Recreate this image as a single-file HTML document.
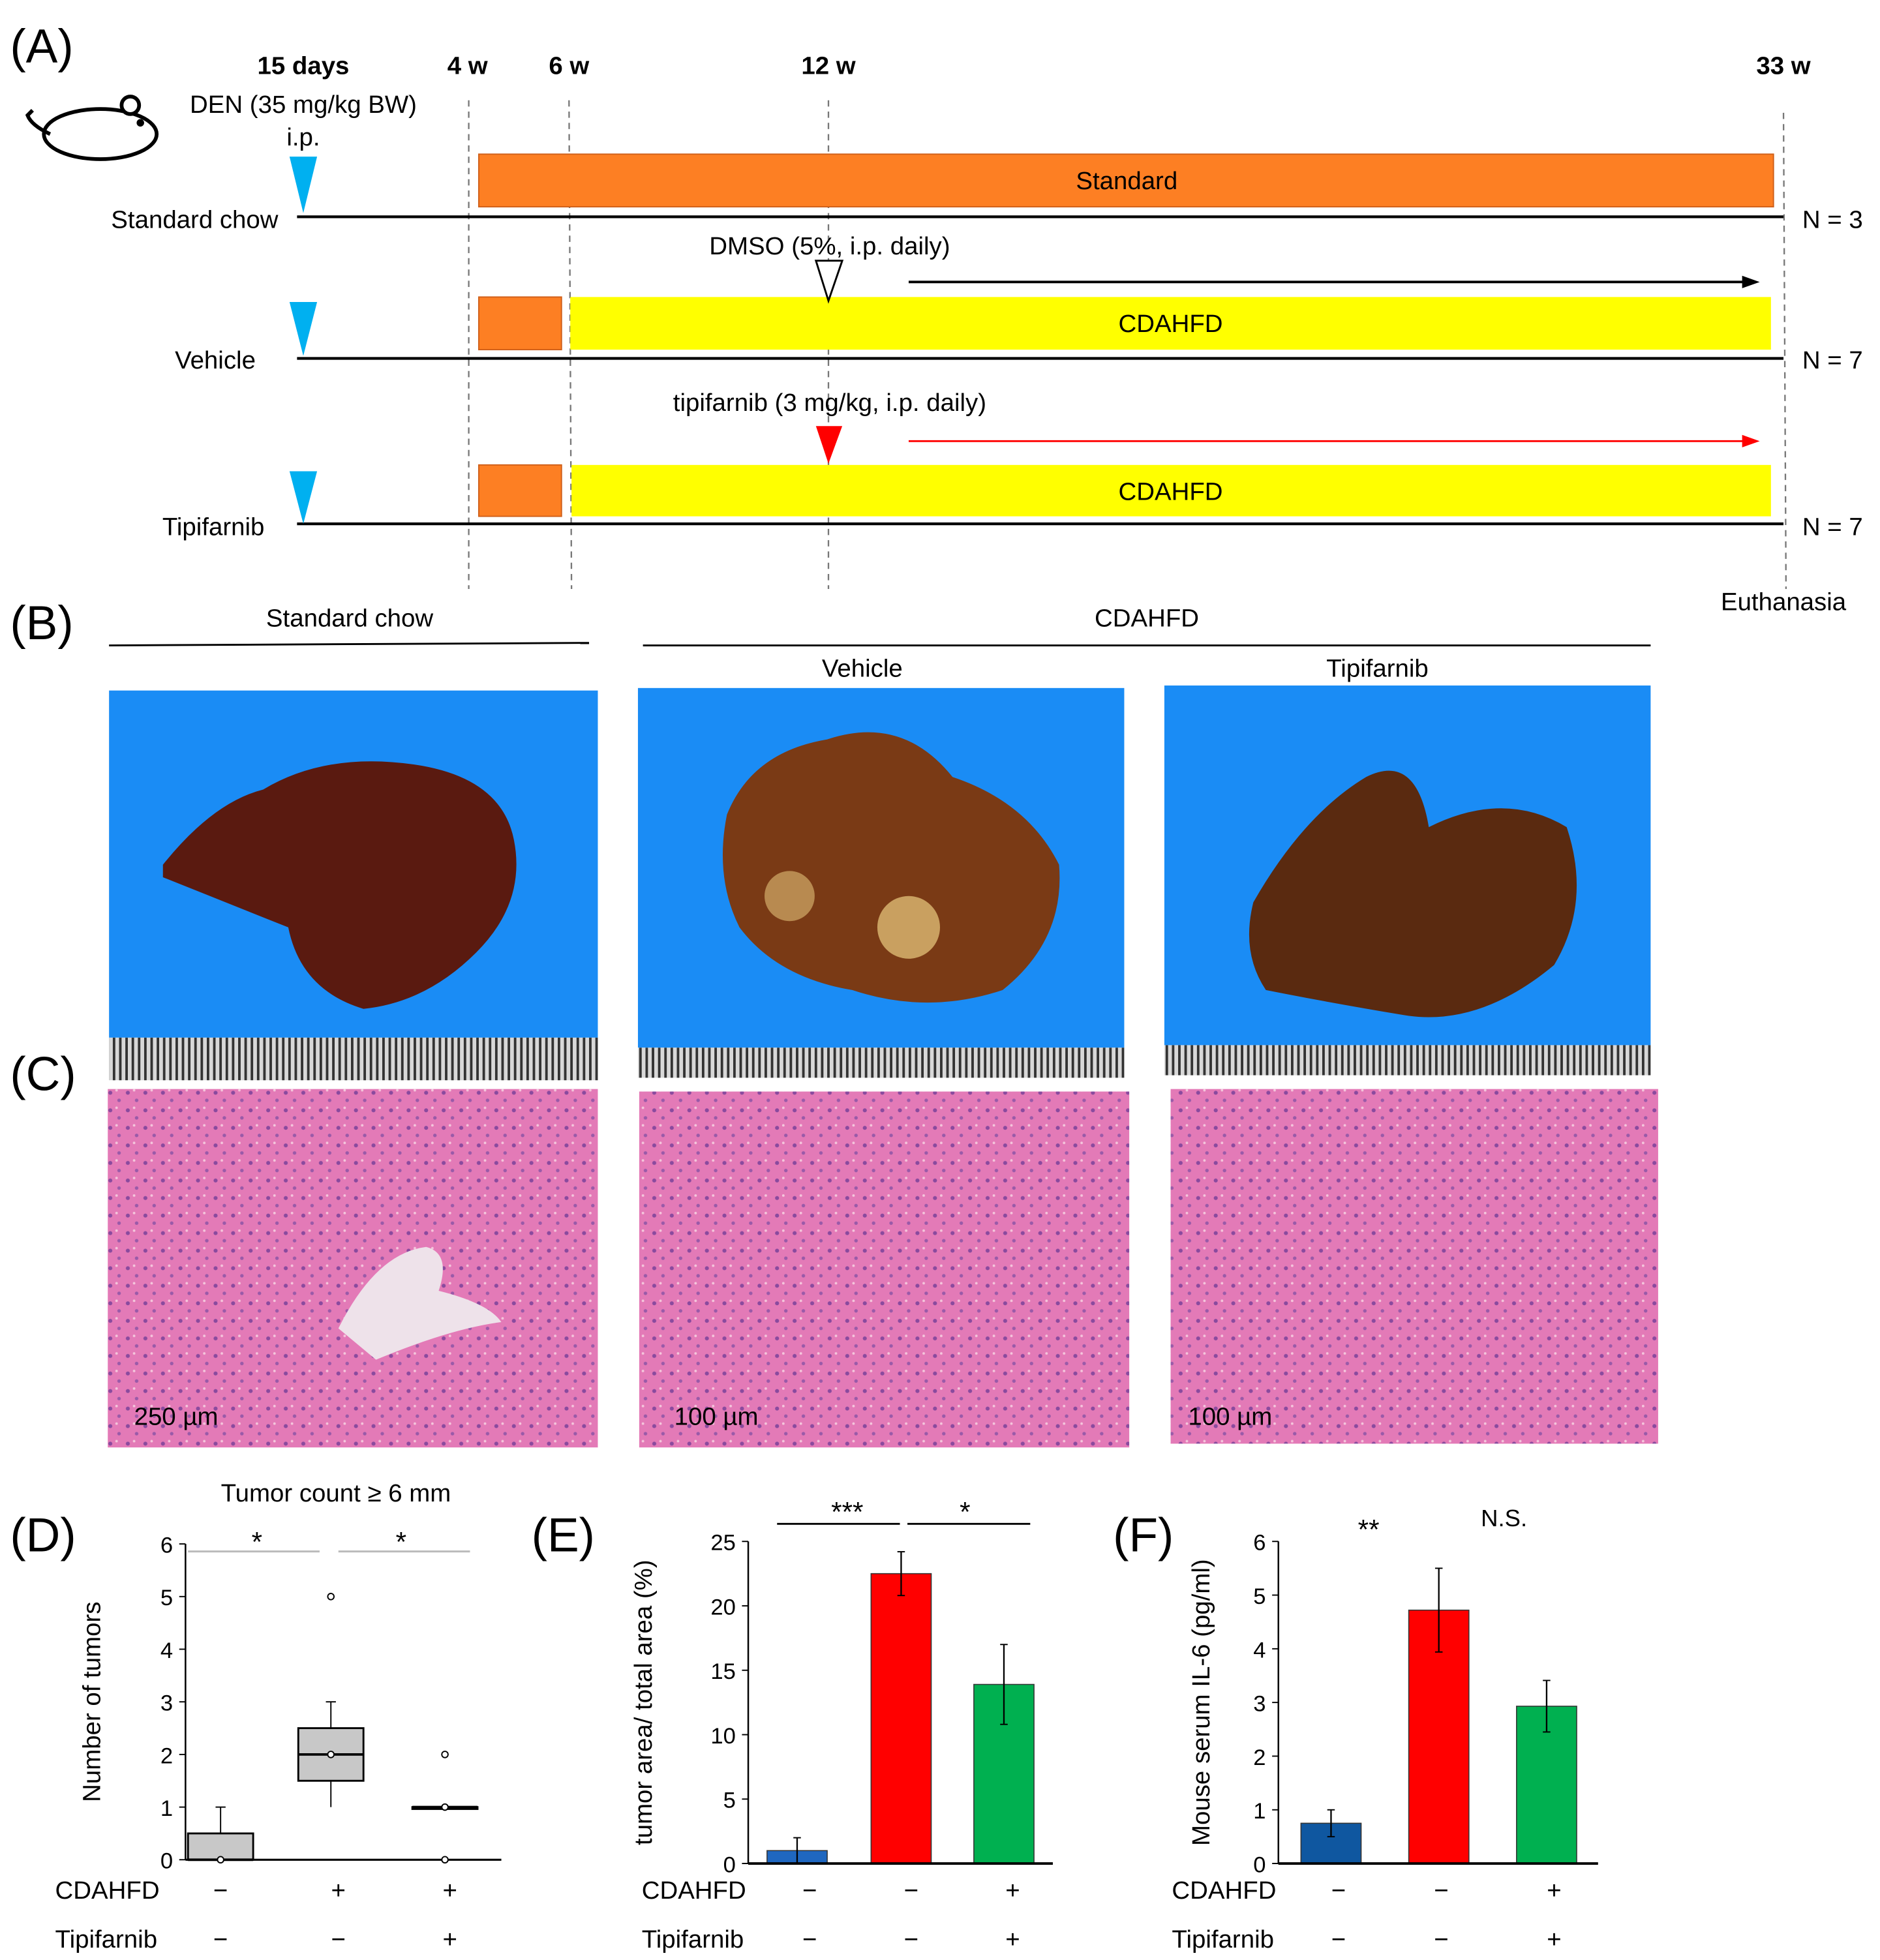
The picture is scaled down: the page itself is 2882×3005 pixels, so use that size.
<!DOCTYPE html>
<html><head><meta charset="utf-8"><style>
html,body{margin:0;padding:0;background:#fff}
svg{display:block}
text{font-family:"Liberation Sans",sans-serif;fill:#000}
</style></head><body>
<svg id="fig" width="2882" height="3005" viewBox="0 0 1500 1564" xmlns="http://www.w3.org/2000/svg">
<rect width="1500" height="1564" fill="#fff"/>
<!-- Panel A -->
<g>
<text x="8" y="50" font-size="38">(A)</text>
<g font-size="20" font-weight="bold" text-anchor="middle">
<text x="242" y="59">15 days</text>
<text x="373" y="59">4 w</text>
<text x="454" y="59">6 w</text>
<text x="661" y="59">12 w</text>
<text x="1423" y="59">33 w</text>
</g>
<g fill="none" stroke="#000" stroke-width="3">
<ellipse cx="80" cy="107" rx="45" ry="20"/>
<circle cx="104" cy="84" r="7" fill="#fff"/>
<path d="M40,107 Q25,100 22,92 L26,88"/>
<circle cx="112" cy="98" r="1.5" fill="#000"/>
</g>
<text x="242" y="90" font-size="20" text-anchor="middle">DEN (35 mg/kg BW)</text>
<text x="242" y="116" font-size="20" text-anchor="middle">i.p.</text>
<g stroke="#777" stroke-width="1.2" stroke-dasharray="5,4">
<line x1="374" y1="80" x2="374" y2="470"/><line x1="454" y1="80" x2="456" y2="470"/>
<line x1="661" y1="80" x2="661" y2="470"/><line x1="1423" y1="90" x2="1425" y2="470"/>
</g>
<rect x="382" y="123" width="1033" height="42" fill="#fd7f23" stroke="#d0601a"/>
<text x="899" y="151" font-size="20" text-anchor="middle">Standard</text>
<rect x="382" y="237" width="66" height="42" fill="#fd7f23" stroke="#d0601a"/>
<rect x="455" y="237" width="958" height="42" fill="#ffff00"/>
<text x="934" y="265" font-size="20" text-anchor="middle">CDAHFD</text>
<rect x="382" y="371" width="66" height="41" fill="#fd7f23" stroke="#d0601a"/>
<rect x="456" y="371" width="957" height="41" fill="#ffff00"/>
<text x="934" y="399" font-size="20" text-anchor="middle">CDAHFD</text>
<g stroke="#000" stroke-width="2.2">
<line x1="237" y1="173" x2="1423" y2="173"/><line x1="237" y1="286" x2="1423" y2="286"/><line x1="237" y1="418" x2="1423" y2="418"/>
</g>
<g fill="#00b0f0">
<polygon points="231,125 253,125 242,170"/><polygon points="231,241 253,241 242,284"/><polygon points="231,376 253,376 242,418"/>
</g>
<g font-size="20" text-anchor="end">
<text x="222" y="182">Standard chow</text>
<text x="204" y="294">Vehicle</text>
<text x="211" y="427">Tipifarnib</text>
</g>
<g font-size="20">
<text x="1438" y="182">N = 3</text><text x="1438" y="294">N = 7</text><text x="1438" y="427">N = 7</text>
<text x="1423" y="487" text-anchor="middle">Euthanasia</text>
<text x="662" y="203" text-anchor="middle">DMSO (5%, i.p. daily)</text>
<text x="662" y="328" text-anchor="middle">tipifarnib (3 mg/kg,  i.p. daily)</text>
</g>
<polygon points="651,208 672,208 661,240" fill="#fff" stroke="#000" stroke-width="1.5"/>
<polygon points="651,340 672,340 661,370" fill="#ff0000"/>
<line x1="725" y1="225" x2="1393" y2="225" stroke="#000" stroke-width="2"/><polygon points="1390,220 1404,225 1390,230" fill="#000"/>
<line x1="725" y1="352" x2="1393" y2="352" stroke="#f00" stroke-width="1.5"/><polygon points="1390,347 1404,352 1390,357" fill="#f00"/>
</g>
<!-- Panel B -->
<g>
<text x="8" y="510" font-size="38">(B)</text>
<text x="279" y="500" font-size="20" text-anchor="middle">Standard chow</text>
<line x1="87" y1="515" x2="470" y2="513" stroke="#000" stroke-width="1.5"/>
<text x="915" y="500" font-size="20" text-anchor="middle">CDAHFD</text>
<line x1="513" y1="515" x2="1317" y2="515" stroke="#000" stroke-width="1.5"/>
<text x="688" y="540" font-size="20" text-anchor="middle">Vehicle</text>
<text x="1099" y="540" font-size="20" text-anchor="middle">Tipifarnib</text>
<defs>
<pattern id="ruler" width="5" height="10" patternUnits="userSpaceOnUse"><rect width="5" height="10" fill="#d8d8d8"/><rect width="2" height="10" fill="#333"/></pattern>
<pattern id="he" width="14" height="14" patternUnits="userSpaceOnUse"><rect width="14" height="14" fill="#e37ab7"/><circle cx="4" cy="4" r="1.6" fill="#8a4a9e"/><circle cx="11" cy="10" r="1.4" fill="#9a5aa8"/><circle cx="9" cy="2" r="1" fill="#f4c6dc"/></pattern>
</defs>
<rect x="87" y="551" width="390" height="277" fill="#1a8cf5"/>
<rect x="87" y="828" width="390" height="34" fill="url(#ruler)"/>
<path d="M130,690 Q170,640 210,630 Q260,600 330,610 Q400,620 410,670 Q420,720 380,760 Q340,800 290,805 Q240,790 230,740 Q180,720 130,700Z" fill="#5a1a10"/>
<rect x="509" y="549" width="388" height="287" fill="#1a8cf5"/>
<rect x="509" y="836" width="388" height="24" fill="url(#ruler)"/>
<path d="M580,650 Q600,600 660,590 Q720,570 760,620 Q820,640 845,690 Q850,750 800,790 Q740,810 680,790 Q620,780 590,740 Q570,700 580,650Z" fill="#7a3a15"/>
<circle cx="725" cy="740" r="25" fill="#c9a060"/><circle cx="630" cy="715" r="20" fill="#b88a50"/>
<rect x="929" y="547" width="388" height="287" fill="#1a8cf5"/>
<rect x="929" y="834" width="388" height="24" fill="url(#ruler)"/>
<path d="M1000,720 Q1040,650 1090,620 Q1130,600 1140,660 Q1200,630 1250,660 Q1270,720 1240,770 Q1180,820 1120,810 Q1060,800 1010,790 Q990,760 1000,720Z" fill="#5a2a10"/>
</g>
<!-- Panel C -->
<g>
<text x="8" y="870" font-size="38">(C)</text>
<rect x="86" y="869" width="391" height="286" fill="url(#he)"/>
<path d="M270,1060 Q300,1000 340,995 Q360,1000 350,1030 Q390,1040 400,1055 Q360,1060 300,1085Z" fill="#eee2ea"/>
<rect x="510" y="871" width="391" height="284" fill="url(#he)"/>
<rect x="934" y="869" width="389" height="283" fill="url(#he)"/>
<g font-size="20"><text x="107" y="1137">250 µm</text><text x="538" y="1137">100 µm</text><text x="948" y="1137">100 µm</text></g>
</g>
<g id="charts"></g>
</svg>
<script>
// Panel D boxplot data
const dGroups=["Standard","Vehicle","Tipifarnib"];
const dMin=[0,1,1];
const dQ1=[0,1.5,1];
const dMed=[0,2,1];
const dQ3=[0.5,2.5,1];
const dMax=[1,3,1];
const dOutliers=[[],[5],[2,0]];
const dTicks=[0,1,2,3,4,5,6];
// Panel E bar data
const eGroups=["Standard","Vehicle","Tipifarnib"];
const eValues=[1.0,22.5,13.9];
const eErrors=[1.0,1.7,3.1];
const eTicks=[0,5,10,15,20,25];
// Panel F bar data
const fGroups=["Standard","Vehicle","Tipifarnib"];
const fValues=[0.75,4.72,2.93];
const fErrors=[0.25,0.78,0.48];
const fTicks=[0,1,2,3,4,5,6];
const cdahfdSigns=["−","+","+"];
const tipiSigns=["−","−","+"];
const eCdahfd=["−","−","+"];

const NS="http://www.w3.org/2000/svg";
const root=document.getElementById('charts');
function mk(tag,attrs,parent,txt){const e=document.createElementNS(NS,tag);for(const k in attrs)e.setAttribute(k,attrs[k]);if(txt!==undefined)e.textContent=txt;(parent||root).appendChild(e);return e;}

function axes(g,x0,xEnd,yTop,yBot,max,ticks,label,labelX){
  const y=v=>yBot-(v/max)*(yBot-yTop);
  mk('line',{x1:x0,y1:yTop,x2:x0,y2:yBot,stroke:'#000','stroke-width':1.3},g);
  mk('line',{x1:x0,y1:yBot,x2:xEnd,y2:yBot,stroke:'#000','stroke-width':1.6},g);
  ticks.forEach(t=>{
    mk('line',{x1:x0-5,y1:y(t),x2:x0,y2:y(t),stroke:'#000'},g);
    const tl=mk('text',{x:x0-10,y:y(t)+7,'font-size':18,'text-anchor':'end'},g,String(t));
    
    
  });
  const cy=(yTop+yBot)/2;
  const yl=mk('text',{x:labelX,y:cy,'font-size':20,'text-anchor':'middle',transform:`rotate(-90 ${labelX} ${cy})`},g,label);
  
  
  return y;
}
function signRows(g,lx,xs,c,t){
  mk('text',{x:lx,y:1515,'font-size':20},g,'CDAHFD');
  mk('text',{x:lx,y:1554,'font-size':20},g,'Tipifarnib');
  xs.forEach((x,i)=>{mk('text',{x:x,y:1515,'font-size':20,'text-anchor':'middle'},g,c[i]);mk('text',{x:x,y:1554,'font-size':20,'text-anchor':'middle'},g,t[i]);});
}

// Panel D
{
  const g=mk('g',{});
  
  
  mk('text',{x:8,y:1238,'font-size':38},g,'(D)');
  mk('text',{x:268,y:1198,'font-size':20,'text-anchor':'middle'},g,'Tumor count ≥ 6 mm');
  const y=axes(g,148,400,1232,1484,6,dTicks,'Number of tumors',80);
  const xs=[176,264,355];
  dGroups.forEach((n,i)=>{
    const x=xs[i],w=26;
    const b=mk('g',{},g);
    
    
    mk('line',{x1:x,y1:y(dMax[i]),x2:x,y2:y(dQ3[i]),stroke:'#000'},b);
    mk('line',{x1:x,y1:y(dMin[i]),x2:x,y2:y(dQ1[i]),stroke:'#000'},b);
    mk('line',{x1:x-4,y1:y(dMax[i]),x2:x+4,y2:y(dMax[i]),stroke:'#000'},b);
    mk('rect',{x:x-w,y:y(dQ3[i]),width:2*w,height:Math.max(y(dQ1[i])-y(dQ3[i]),1.5),fill:'#c8c8c8',stroke:'#000','stroke-width':1.5},b);
    mk('line',{x1:x-w,y1:y(dMed[i]),x2:x+w,y2:y(dMed[i]),stroke:'#000','stroke-width':2},b);
    mk('circle',{cx:x,cy:y(dMed[i]),r:2.5,fill:'#fff',stroke:'#000'},b);
    dOutliers[i].forEach(o=>mk('circle',{cx:x,cy:y(o),r:2.5,fill:'#fff',stroke:'#000'},b));
  });
  mk('line',{x1:150,y1:1238,x2:255,y2:1238,stroke:'#bbb','stroke-width':1.5},g);
  mk('line',{x1:270,y1:1238,x2:375,y2:1238,stroke:'#bbb','stroke-width':1.5},g);
  mk('text',{x:205,y:1238,'font-size':22,'text-anchor':'middle'},g,'*');
  mk('text',{x:320,y:1238,'font-size':22,'text-anchor':'middle'},g,'*');
  signRows(g,44,[176,270,359],cdahfdSigns,tipiSigns);
}
function bars(name,label,lx,x0,xEnd,max,ticks,vals,errs,xs,cols,ylab,ylx){
  const g=mk('g',{});
  
  
  mk('text',{x:lx,y:1238,'font-size':38},g,label);
  const y=axes(g,x0,xEnd,1230,1487,max,ticks,ylab,ylx);
  vals.forEach((v,i)=>{
    const r=mk('rect',{x:xs[i]-24,y:y(v),width:48,height:1487-y(v),fill:cols[i],stroke:'#333','stroke-width':0.8},g);
    
    
    mk('line',{x1:xs[i],y1:y(v+errs[i]),x2:xs[i],y2:y(v-errs[i]),stroke:'#000','stroke-width':1.2},g);
    mk('line',{x1:xs[i]-3,y1:y(v+errs[i]),x2:xs[i]+3,y2:y(v+errs[i]),stroke:'#000'},g);
    mk('line',{x1:xs[i]-3,y1:y(v-errs[i]),x2:xs[i]+3,y2:y(v-errs[i]),stroke:'#000'},g);
  });
  mk('line',{x1:x0,y1:1487,x2:xEnd,y2:1487,stroke:'#000','stroke-width':2},g);
  return g;
}
const cols=['#1f67c0','#ff0000','#00b050'];
const ge=bars('panel-e-tumor-area','(E)',424,597,840,25,eTicks,eValues,eErrors,[636,719,801],cols,'tumor area/ total area (%)',520);
mk('line',{x1:620,y1:1216,x2:718,y2:1216,stroke:'#000','stroke-width':1.5},ge);
mk('line',{x1:724,y1:1216,x2:822,y2:1216,stroke:'#000','stroke-width':1.5},ge);
mk('text',{x:676,y:1214,'font-size':22,'text-anchor':'middle'},ge,'***');
mk('text',{x:770,y:1214,'font-size':22,'text-anchor':'middle'},ge,'*');
signRows(ge,512,[646,727,808],eCdahfd,tipiSigns);
const gf=bars('panel-f-il6','(F)',888,1020,1275,6,fTicks,fValues,fErrors,[1062,1148,1234],['#0f57a0','#ff0000','#00b050'],'Mouse serum IL-6 (pg/ml)',965);
mk('text',{x:1092,y:1228,'font-size':22,'text-anchor':'middle'},gf,'**');
mk('text',{x:1200,y:1218,'font-size':19,'text-anchor':'middle'},gf,'N.S.');
signRows(gf,935,[1068,1150,1240],eCdahfd,tipiSigns);
</script>
</body></html>
